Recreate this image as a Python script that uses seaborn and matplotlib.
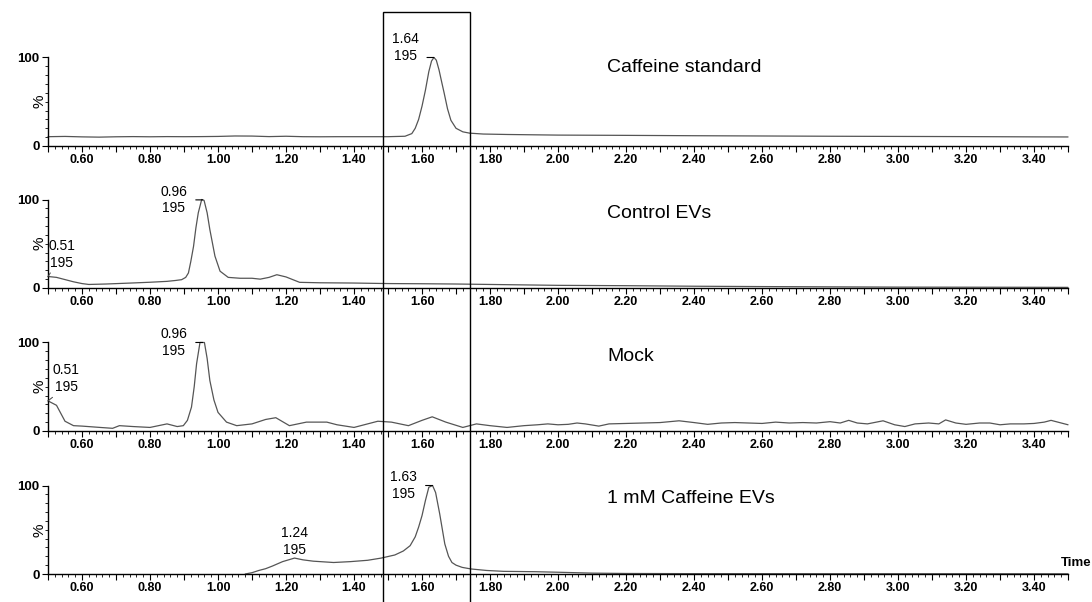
import numpy as np
import pandas as pd
import matplotlib
matplotlib.use("Agg")
import matplotlib.pyplot as plt
import matplotlib.transforms as mtransforms
from matplotlib.patches import Rectangle
from matplotlib.ticker import MultipleLocator, FuncFormatter, FixedLocator
import seaborn as sns

# ---- data (time in min, relative intensity %) ----
caffeine_std_t = [0.50, 0.55, 0.60, 0.65, 0.70, 0.75, 0.80, 0.85, 0.90, 0.95,
                  1.00, 1.05, 1.10, 1.15, 1.20, 1.25, 1.30, 1.35, 1.40, 1.45,
                  1.50, 1.55, 1.57, 1.58, 1.59, 1.60, 1.61, 1.62, 1.628, 1.635,
                  1.642, 1.65, 1.658, 1.665, 1.675, 1.685, 1.70, 1.72, 1.74, 1.78,
                  1.85, 2.00, 2.20, 2.40, 2.60, 2.80, 3.00, 3.20, 3.40, 3.50]
caffeine_std_pct = [10.5, 10.8, 10.3, 10.0, 10.4, 10.6, 10.4, 10.6, 10.5, 10.6,
                    10.8, 11.3, 11.2, 10.6, 11.0, 10.5, 10.4, 10.5, 10.5, 10.5,
                    10.5, 11.0, 14.0, 20.0, 30.0, 45.0, 63.0, 84.0, 96.0, 100.0,
                    97.0, 86.0, 72.0, 60.0, 42.0, 29.0, 20.0, 16.0, 14.5, 13.5,
                    13.0, 12.3, 12.0, 11.6, 11.3, 11.0, 10.8, 10.6, 10.3, 10.2]

control_t = [0.50, 0.525, 0.55, 0.575, 0.60, 0.62, 0.67, 0.75, 0.80, 0.85,
             0.875, 0.893, 0.905, 0.913, 0.92, 0.928, 0.935, 0.942, 0.952, 0.959,
             0.968, 0.976, 0.984, 0.991, 1.006, 1.03, 1.065, 1.10, 1.124, 1.15,
             1.173, 1.20, 1.24, 1.30, 1.40, 1.50, 1.60, 1.70, 1.80, 1.90,
             2.00, 2.20, 2.40, 2.60, 2.80, 3.00, 3.20, 3.40, 3.50]
control_pct = [13.0, 12.0, 9.5, 7.0, 5.0, 4.0, 4.5, 5.7, 6.5, 7.5,
               8.5, 9.4, 12.0, 17.0, 30.0, 47.0, 68.0, 85.0, 100.0, 99.0,
               85.0, 66.0, 50.0, 36.0, 19.0, 12.0, 11.0, 11.0, 10.0, 12.0,
               15.0, 12.5, 6.4, 5.9, 5.6, 5.0, 4.8, 4.5, 4.0, 3.5,
               3.0, 2.6, 2.0, 1.6, 1.3, 1.0, 0.9, 0.8, 0.7]

mock_t = [0.50, 0.525, 0.55, 0.575, 0.60, 0.653, 0.69, 0.71, 0.75, 0.80,
          0.85, 0.88, 0.898, 0.91, 0.922, 0.93, 0.937, 0.947, 0.96, 0.968,
          0.976, 0.988, 1.00, 1.025, 1.055, 1.10, 1.14, 1.17, 1.21, 1.26,
          1.32, 1.35, 1.40, 1.47, 1.51, 1.56, 1.60, 1.63, 1.67, 1.72,
          1.76, 1.80, 1.85, 1.90, 1.94, 1.97, 2.00, 2.03, 2.056, 2.08,
          2.12, 2.15, 2.20, 2.25, 2.30, 2.356, 2.40, 2.44, 2.48, 2.52,
          2.56, 2.60, 2.64, 2.68, 2.72, 2.76, 2.80, 2.83, 2.855, 2.88,
          2.91, 2.956, 2.99, 3.02, 3.05, 3.09, 3.12, 3.14, 3.17, 3.20,
          3.24, 3.27, 3.30, 3.33, 3.37, 3.40, 3.43, 3.45, 3.48, 3.50]
mock_pct = [34.0, 29.0, 11.0, 6.0, 5.5, 4.0, 3.0, 6.0, 5.0, 4.0,
            8.0, 5.0, 6.0, 12.0, 27.0, 50.0, 76.0, 100.0, 100.0, 82.0,
            57.0, 35.0, 21.0, 10.0, 6.0, 8.0, 13.0, 15.0, 6.0, 10.0,
            10.0, 7.0, 4.0, 11.0, 10.0, 6.0, 12.0, 16.0, 10.0, 4.0,
            8.0, 6.0, 4.0, 6.0, 7.0, 8.0, 7.0, 7.5, 9.0, 8.0,
            5.5, 8.0, 8.5, 9.0, 9.5, 11.5, 9.5, 7.5, 9.0, 9.5,
            9.0, 8.5, 10.0, 9.0, 9.5, 9.0, 10.5, 9.0, 12.0, 9.0,
            8.0, 11.5, 7.0, 5.0, 8.0, 9.0, 8.0, 12.5, 9.0, 7.5,
            9.0, 9.0, 7.0, 8.0, 8.0, 8.5, 10.0, 12.0, 9.0, 7.0]

caffeine_ev_t = [1.08, 1.10, 1.12, 1.14, 1.16, 1.19, 1.225, 1.25, 1.28, 1.34,
                 1.39, 1.44, 1.48, 1.52, 1.545, 1.565, 1.58, 1.59, 1.60, 1.61,
                 1.62, 1.631, 1.64, 1.652, 1.667, 1.678, 1.688, 1.70, 1.718, 1.744,
                 1.79, 1.84, 1.935, 2.00, 2.10, 2.20, 2.40, 2.60, 2.80, 3.00,
                 3.20, 3.50]
caffeine_ev_pct = [0.0, 1.5, 4.0, 6.0, 9.0, 14.0, 18.0, 16.0, 14.5, 13.0,
                   14.0, 15.5, 18.0, 21.5, 26.0, 32.0, 42.0, 53.0, 66.0, 83.0,
                   98.0, 100.0, 92.0, 68.0, 34.0, 20.0, 13.0, 10.0, 7.5, 5.7,
                   4.0, 3.0, 2.6, 2.0, 1.0, 0.6, 0.4, 0.4, 0.3, 0.3,
                   0.3, 0.2]

sample_names = ["Caffeine standard", "Control EVs", "Mock", "1 mM Caffeine EVs"]
mass_label = "195"
# (retention time text, time of the labelled point, label style)
peak_labels = [
    [("1.64", 1.635, "side")],
    [("0.51", 0.50, "start"), ("0.96", 0.955, "side")],
    [("0.51", 0.50, "start"), ("0.96", 0.955, "side")],
    [("1.24", 1.225, "top"), ("1.63", 1.631, "side")],
]
x_tick_labels = ["0.60", "0.80", "1.00", "1.20", "1.40", "1.60", "1.80", "2.00",
                 "2.20", "2.40", "2.60", "2.80", "3.00", "3.20", "3.40"]
highlight_window = [1.485, 1.741]

traces = [(caffeine_std_t, caffeine_std_pct), (control_t, control_pct),
          (mock_t, mock_pct), (caffeine_ev_t, caffeine_ev_pct)]

sns.set_theme(style="white")
plt.rcParams['font.family'] = ['Liberation Sans', 'DejaVu Sans']
plt.rcParams['text.color'] = 'black'
plt.rcParams['axes.labelcolor'] = 'black'
plt.rcParams['xtick.color'] = 'black'
plt.rcParams['ytick.color'] = 'black'

fig = plt.figure(figsize=(10.92, 6.02), dpi=100)
panel_bottoms = [0.7575, 0.5216, 0.2841, 0.0465]
name_y = [0.885, 0.84, 0.84, 0.85]
side_dy = [7, 0, 0, 0]
start_dx = [0, 10, 13, 0]
trace_color = "#555555"

axes = []
for i, (t, pct) in enumerate(traces):
    ax = fig.add_axes([0.04396, panel_bottoms[i], 0.9341, 0.147])
    axes.append(ax)
    df = pd.DataFrame({"time": t, "pct": pct})
    sns.lineplot(data=df, x="time", y="pct", ax=ax, color=trace_color,
                 lw=0.9, sort=False, estimator=None)
    for ln in ax.lines:
        ln.set_clip_on(False)

    ax.set_xlim(0.5, 3.5)
    ax.set_ylim(0, 100)
    ax.set_xlabel("")
    ax.set_ylabel("%", fontsize=11, rotation=90)
    ax.yaxis.set_label_coords(-0.001, 0.5)

    for s in ["top", "right"]:
        ax.spines[s].set_visible(False)
    for s in ["left", "bottom"]:
        ax.spines[s].set_color("black")
        ax.spines[s].set_linewidth(1.0)

    ax.xaxis.set_major_locator(MultipleLocator(0.1))
    ax.xaxis.set_minor_locator(MultipleLocator(0.02))
    ax.xaxis.set_major_formatter(FuncFormatter(
        lambda v, p: f"{v:.2f}" if f"{v:.2f}" in x_tick_labels else ""))
    ax.yaxis.set_major_locator(FixedLocator([0, 100]))
    ax.yaxis.set_minor_locator(MultipleLocator(10))
    ax.tick_params(axis="x", which="major", direction="out", length=4, width=0.8,
                   color="black", pad=2, labelsize=9, bottom=True)
    ax.tick_params(axis="x", which="minor", direction="out", length=2, width=0.6,
                   color="black", bottom=True)
    ax.tick_params(axis="y", which="major", direction="out", length=4, width=0.8,
                   color="black", pad=2, labelsize=9.5, left=True)
    ax.tick_params(axis="y", which="minor", direction="out", length=2, width=0.6,
                   color="black", left=True)
    for lab in ax.get_xticklabels() + ax.get_yticklabels():
        lab.set_fontweight("bold")

    ax.text(0.548, name_y[i], sample_names[i], transform=ax.transAxes,
            fontsize=14, ha="left", va="center", color="black")

    for rt, t_pk, style in peak_labels[i]:
        y_pk = np.interp(t_pk, t, pct)
        txt = f"{rt}\n{mass_label}"
        if style == "side":
            ax.annotate(txt, xy=(t_pk, y_pk), xytext=(-11, side_dy[i]),
                        textcoords="offset points", ha="right", va="center",
                        fontsize=10, linespacing=1.25, multialignment="center",
                        annotation_clip=False)
            ax.annotate("", xy=(t_pk, y_pk), xytext=(-5, 0),
                        textcoords="offset points", annotation_clip=False,
                        arrowprops=dict(arrowstyle="-", lw=0.8, color="black",
                                        shrinkA=0, shrinkB=0))
        elif style == "start":
            ax.annotate(txt, xy=(t_pk, y_pk), xytext=(start_dx[i], 16),
                        textcoords="offset points", ha="center", va="center",
                        fontsize=10, linespacing=1.25, multialignment="center",
                        annotation_clip=False,
                        arrowprops=dict(arrowstyle="-", lw=0.7, color="#444444",
                                        shrinkA=0, shrinkB=0, relpos=(0.15, 0.0)))
        else:
            ax.annotate(txt, xy=(t_pk, y_pk), xytext=(0, 1),
                        textcoords="offset points", ha="center", va="bottom",
                        fontsize=10, linespacing=1.25, multialignment="center",
                        annotation_clip=False)

axes[-1].text(0.993, 0.06, "Time", transform=axes[-1].transAxes, ha="left",
              va="bottom", fontsize=9.5, fontweight="bold")

# retention window box spanning all panels
blend = mtransforms.blended_transform_factory(axes[-1].transData, fig.transFigure)
box = Rectangle((highlight_window[0], -0.02), highlight_window[1] - highlight_window[0],
                1.0, transform=blend, fill=False, edgecolor="black", lw=1.0,
                clip_on=False)
fig.add_artist(box)

fig.savefig("out.png", dpi=100, facecolor="white")
